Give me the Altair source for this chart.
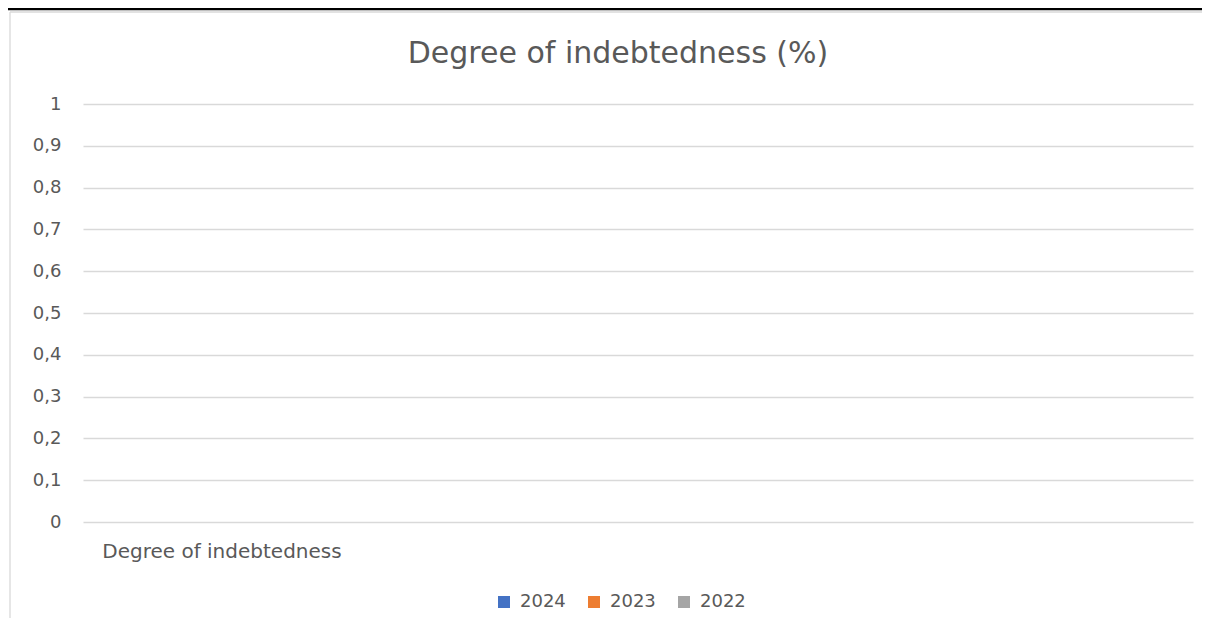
import altair as alt
import pandas as pd

# ---- data (chart is empty: no values were plotted) ----
categories = ["Degree of indebtedness"]
series = ["2024", "2023", "2022"]
values_2024 = [None]
values_2023 = [None]
values_2022 = [None]
series_colors = ["#4472C4", "#ED7D31", "#A5A5A5"]
y_ticks = [0, 0.1, 0.2, 0.3, 0.4, 0.5, 0.6, 0.7, 0.8, 0.9, 1]
title_text = "Degree of indebtedness (%)"

rows = []
for s, vals in zip(series, [values_2024, values_2023, values_2022]):
    for c, v in zip(categories, vals):
        rows.append({"category": c, "series": s, "value": v})
df = pd.DataFrame(rows)

FONT = "DejaVu Sans"
TXT = "#595959"
GRID = "#D9D9D9"
W, H = 1110, 418

bars = alt.Chart(df).mark_bar().encode(
    x=alt.X("category:N",
            scale=alt.Scale(domain=categories, paddingInner=0.332, paddingOuter=1, align=0),
            axis=alt.Axis(title=None, labelAngle=0, labelAlign="center", labelLimit=0,
                          labelFont=FONT, labelFontSize=20, labelColor=TXT,
                          labelPadding=19, domain=False, ticks=False, grid=False)),
    xOffset=alt.XOffset("series:N", scale=alt.Scale(domain=series)),
    y=alt.Y("value:Q", scale=alt.Scale(domain=[0, 1], nice=False, zero=True),
            axis=alt.Axis(title=None, values=y_ticks,
                          labelExpr="replace(format(datum.value, '.1~f'), '.', ',')",
                          labelFont=FONT, labelFontSize=18, labelColor=TXT,
                          labelPadding=22, domain=False, ticks=False,
                          grid=True, gridColor=GRID, gridWidth=1.3)),
    color=alt.Color("series:N", scale=alt.Scale(domain=series, range=series_colors),
                    legend=alt.Legend(title=None, orient="none", direction="horizontal",
                                      legendX=412, legendY=489,
                                      symbolType="square", symbolSize=144,
                                      symbolStrokeWidth=0, labelFont=FONT,
                                      labelFontSize=18, labelColor=TXT,
                                      labelOffset=7, columnPadding=19)),
)

deco = alt.Data(values=[{"k": 1}])
black_line = alt.Chart(deco).mark_rule(color="black", strokeWidth=2.5).encode(
    x=alt.value(-83), x2=alt.value(1130), y=alt.value(-95))
top_border = alt.Chart(deco).mark_rule(color=GRID, strokeWidth=1.3).encode(
    x=alt.value(-73), x2=alt.value(1130), y=alt.value(-92))
left_border = alt.Chart(deco).mark_rule(color=GRID, strokeWidth=1.3).encode(
    x=alt.value(-73), y=alt.value(-92), y2=alt.value(530))

chart = alt.layer(black_line, top_border, left_border, bars).properties(
    width=W, height=H,
    title=alt.TitleParams(title_text, font=FONT, fontSize=30, fontWeight="normal",
                          color=TXT, anchor="middle", dx=-20, baseline="alphabetic",
                          offset=0, dy=85),
    autosize=alt.AutoSizeParams(type="none"),
    padding={"left": 75, "top": 96, "right": 9, "bottom": 96},
    background="white",
).configure_view(stroke=None)

chart.save("out.html", embed_options={"renderer": "svg", "actions": False})
